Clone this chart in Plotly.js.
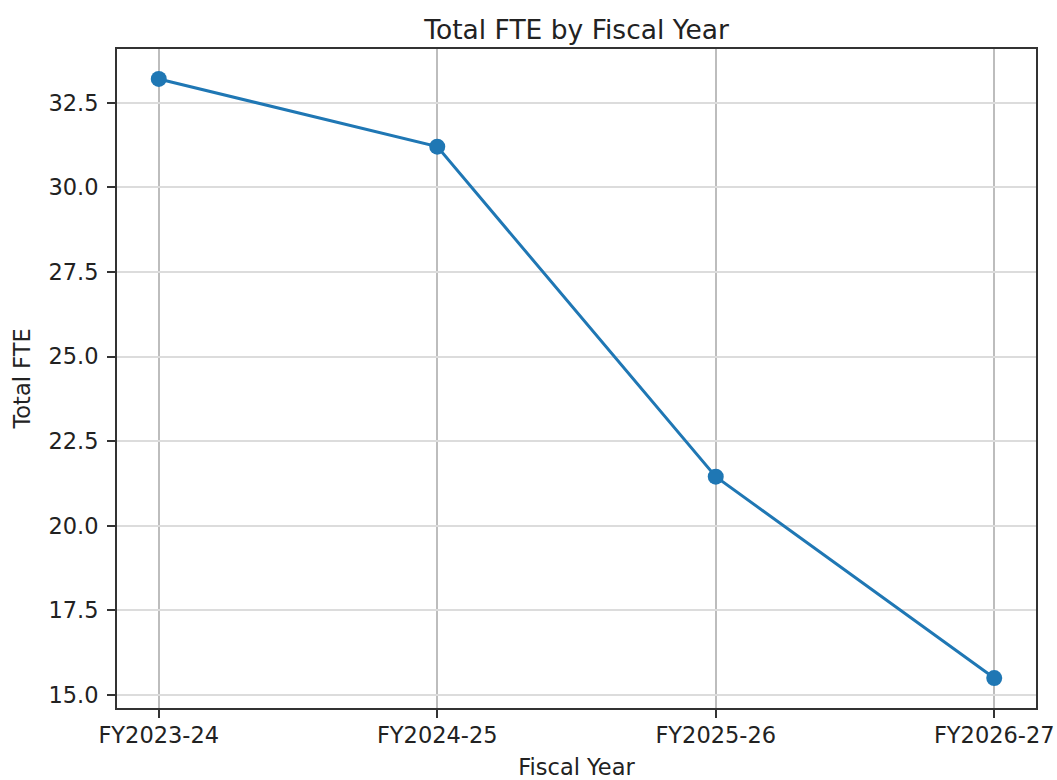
<!DOCTYPE html>
<html>
<head>
<meta charset="utf-8">
<script src="https://cdn.plot.ly/plotly-3.0.1.min.js"></script>
<style>
  html, body { margin: 0; padding: 0; background: #ffffff; }
  #chart { width: 1057px; height: 780px; }
</style>
</head>
<body>
<div id="chart"></div>
<script>
// Data
const fiscalYears = ["FY2023-24", "FY2024-25", "FY2025-26", "FY2026-27"];
const totalFTE = [33.2, 31.2, 21.45, 15.5];
const yTickValues = [15.0, 17.5, 20.0, 22.5, 25.0, 27.5, 30.0, 32.5];
const yTickLabels = ["15.0", "17.5", "20.0", "22.5", "25.0", "27.5", "30.0", "32.5"];

const FONT = "DejaVu Sans, Liberation Sans, sans-serif";
const TEXT = "#222222";

const ymin = Math.min(...totalFTE), ymax = Math.max(...totalFTE);
const pad = (ymax - ymin) * 0.05;

const trace = {
  x: fiscalYears.map((_, i) => i),
  y: totalFTE,
  type: "scatter",
  mode: "lines+markers",
  line: { color: "#1f77b4", width: 3 },
  marker: { color: "#1f77b4", size: 16 },
  hoverinfo: "x+y",
  showlegend: false
};

const layout = {
  width: 1057,
  height: 780,
  paper_bgcolor: "#ffffff",
  plot_bgcolor: "#ffffff",
  margin: { l: 117, r: 21, t: 49, b: 72, pad: 0 },
  font: { family: FONT, size: 22.5, color: TEXT },
  title: {
    text: "Total FTE by Fiscal Year",
    font: { family: FONT, size: 26.5, color: TEXT },
    x: 0.5455, xanchor: "center",
    y: 0.9735, yanchor: "top",
    yref: "container"
  },
  xaxis: {
    range: [-0.15, fiscalYears.length - 1 + 0.15],
    tickmode: "array",
    tickvals: fiscalYears.map((_, i) => i),
    ticktext: fiscalYears,
    showgrid: true,
    gridcolor: "#bdbdbd",
    gridwidth: 1.8,
    zeroline: false,
    showline: true,
    linecolor: "#333333",
    linewidth: 2,
    mirror: true,
    ticks: "outside",
    ticklen: 8,
    tickwidth: 2,
    tickcolor: "#333333",
    ticklabelstandoff: -2,
    tickfont: { family: FONT, size: 22.5, color: TEXT },
    title: {
      text: "Fiscal Year",
      font: { family: FONT, size: 22.5, color: TEXT },
      standoff: 12
    },
    fixedrange: true
  },
  yaxis: {
    range: [ymin - pad, ymax + pad],
    tickmode: "array",
    tickvals: yTickValues,
    ticktext: yTickLabels,
    showgrid: true,
    gridcolor: "#dcdcdc",
    gridwidth: 1.8,
    zeroline: false,
    showline: true,
    linecolor: "#333333",
    linewidth: 2,
    mirror: true,
    ticks: "outside",
    ticklen: 8,
    tickwidth: 2,
    tickcolor: "#333333",
    ticklabelstandoff: 4,
    tickfont: { family: FONT, size: 22.5, color: TEXT },
    title: {
      text: "Total FTE",
      font: { family: FONT, size: 22.5, color: TEXT },
      standoff: 12
    },
    fixedrange: true
  }
};

Plotly.newPlot("chart", [trace], layout, { displayModeBar: false });
</script>
</body>
</html>
